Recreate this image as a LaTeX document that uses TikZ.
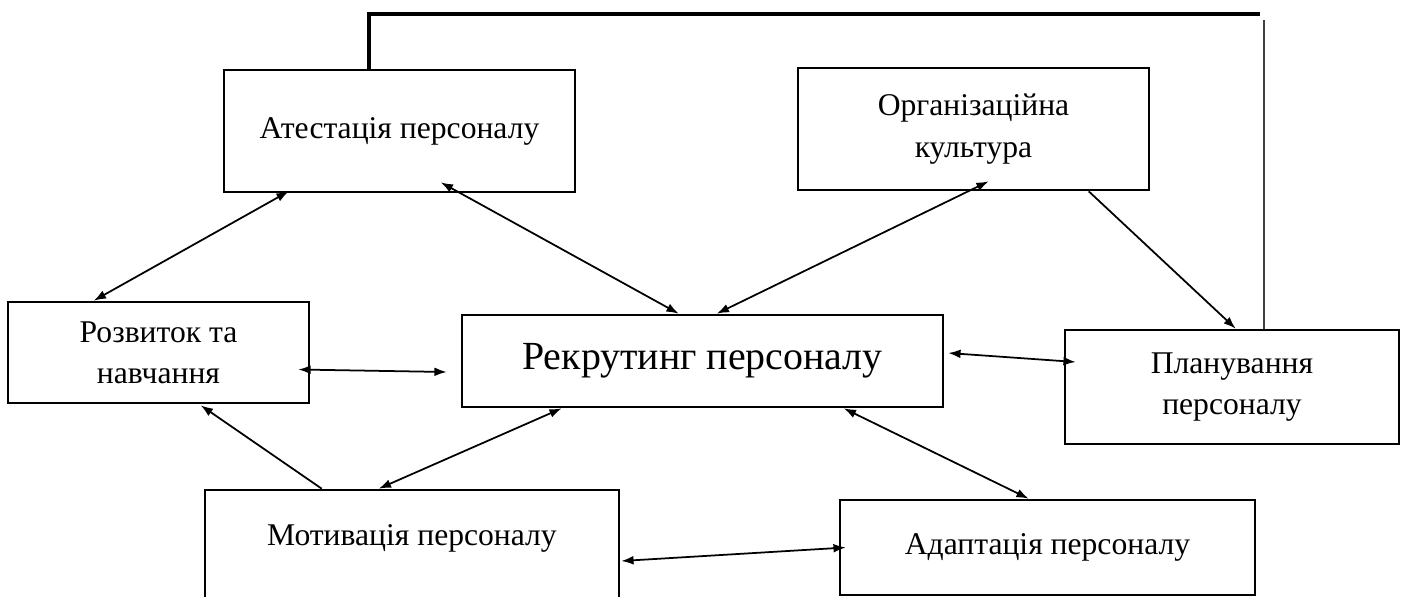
\documentclass[tikz,border=0pt]{standalone}
\usepackage{fontspec}
\setmainfont{Liberation Serif}
\usetikzlibrary{calc,arrows.meta}
\begin{document}
\begin{tikzpicture}[
    x=0.02cm,y=-0.02cm,
    >={Latex[length=7pt,width=5pt]},
    box/.style={draw,line width=1.5pt,inner sep=0pt,align=center,
        font={\fontsize{18}{23.5}\selectfont}},
    link/.style={<->,line width=1pt},
    toplink/.style={line width=2.2pt},
    sidelink/.style={line width=0.8pt,black!75},
    ]
    % Frame of the picture
    \useasboundingbox (0,0) rectangle (1404,596);
    \clip (0,0) rectangle (1404,596);

    % Boxes
    \node[box,minimum width=7.02cm,minimum height=2.44cm] (att) at (399.5,131) {Атестація персоналу};
    \node[box,minimum width=7.02cm,minimum height=2.44cm] (org) at (973.5,129) {Організаційна\\культура};
    \node[box,minimum width=6.02cm,minimum height=2.02cm] (rozv) at (158.5,352.5) {Розвиток та\\навчання};
    \node[box,font={\fontsize{22.7}{26}\selectfont},minimum width=9.62cm,minimum height=1.84cm] (rekr) at (702.5,361) {Рекрутинг персоналу};
    \node[box,minimum width=6.68cm,minimum height=2.28cm] (plan) at (1232,387) {Планування\\персоналу};
    \node[box,minimum width=8.28cm,text height=1.1cm,text depth=1.5cm] (mot) at (412,555) {Мотивація персоналу};
    \node[box,minimum width=8.3cm,minimum height=1.9cm] (ad) at (1047.5,547.5) {Адаптація персоналу};

    % Feedback line over the top
    \coordinate (topR) at (1260,14);
    \coordinate (sideT) at (1264,20);
    \draw[toplink] ($(att.north west)+(146,0)$) |- (topR);
    \draw[sidelink] (sideT) -- (sideT |- plan.north);

    % Links
    \draw[link] ($(att.south west)+(66,-2)$) -- ($(rozv.north west)+(87,0)$);
    \draw[link] ($(att.south west)+(218,-11)$) -- ($(rekr.north west)+(218,0)$);
    \draw[link] ($(org.south west)+(192,-10)$) -- ($(rekr.north west)+(256,0)$);
    \draw[->,line width=1pt] ($(org.south west)+(292,0)$) -- ($(plan.north west)+(172,0)$);
    \draw[link] ($(rozv.east)+(-12,17)$) -- ($(rekr.west)+(-14,11)$);
    \draw[link] ($(rekr.east)+(4,-8)$) -- ($(plan.west)+(12,-25)$);

    % Links from the bottom row
    \draw[->,line width=1pt] ($(mot.north west)+(118,0)$) -- ($(rozv.south west)+(194,1)$);
    \draw[link] ($(mot.north west)+(175,0)$) -- ($(rekr.south west)+(101,0)$);
    \draw[link] ($(rekr.south west)+(383,0)$) -- ($(ad.north west)+(190,0)$);
    \draw[link] ($(mot.east)+(1,6)$) -- ($(ad.west)+(7,0)$);
\end{tikzpicture}
\end{document}
